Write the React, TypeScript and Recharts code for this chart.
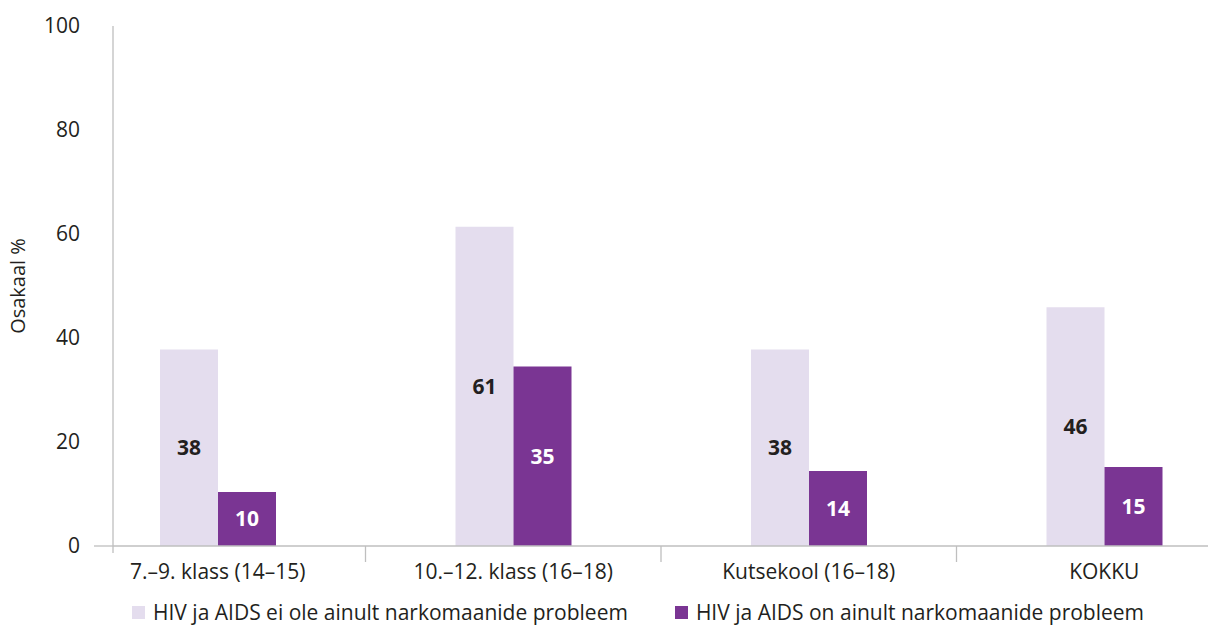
import React from 'react';
import { BarChart, Bar, XAxis, YAxis, Legend, LabelList } from 'recharts';

const categories = ['7.–9. klass (14–15)', '10.–12. klass (16–18)', 'Kutsekool (16–18)', 'KOKKU'];
const notOnlyAddicts = [37.8, 61.4, 37.8, 45.9];
const onlyAddicts = [10.4, 34.5, 14.4, 15.2];
const seriesNames = [
  'HIV ja AIDS ei ole ainult narkomaanide probleem',
  'HIV ja AIDS on ainult narkomaanide probleem',
];
const yTicks = [0, 20, 40, 60, 80, 100];

const data = categories.map((c, i) => ({
  category: c,
  a: notOnlyAddicts[i],
  b: onlyAddicts[i],
}));

const LIGHT = '#e4ddee';
const DARK = '#7a3593';
const AXIS = '#bfbfbf';
const TEXT = '#231f20';
const FONT = '"Open Sans", sans-serif';
const FS = 21;
const BAND = 295.5;
const Y_AXIS_W = 113;

const XTick = (props: any) => {
  const { x, y, payload, index } = props;
  return (
    <g>
      {index === 0 && (
        <g>
          <line x1={Y_AXIS_W - 19} x2={Y_AXIS_W} y1={y} y2={y} stroke={AXIS} strokeWidth={1.3} />
          <line x1={Y_AXIS_W} x2={Y_AXIS_W} y1={y} y2={y + 7} stroke={AXIS} strokeWidth={1.3} />
        </g>
      )}
      {index < categories.length - 1 && (
        <line x1={x + BAND / 2} x2={x + BAND / 2} y1={y} y2={y + 16} stroke={AXIS} strokeWidth={1.3} />
      )}
      <text x={x} y={y + 26} dy="0.35em" textAnchor="middle" fill={TEXT} fontSize={FS} fontFamily={FONT}>
        {payload.value}
      </text>
    </g>
  );
};

const YLabel = (props: any) => {
  const vb = props.viewBox;
  const cx = 18;
  const cy = vb.y + vb.height / 2;
  return (
    <text x={cx} y={cy} dy="0.35em" textAnchor="middle" transform={`rotate(-90 ${cx} ${cy})`} fill={TEXT} fontSize={20} fontFamily={FONT}>
      Osakaal %
    </text>
  );
};

const LegendContent = () => {
  const colors = [LIGHT, DARK];
  return (
    <div style={{ height: 0, overflow: 'visible', position: 'relative' }}>
      <div style={{ position: 'absolute', top: -14, left: 0, display: 'flex', paddingLeft: 132, fontFamily: FONT, fontSize: 21, color: TEXT, whiteSpace: 'nowrap' }}>
        {seriesNames.map((n, i) => (
          <div key={i} style={{ display: 'flex', alignItems: 'center', marginRight: 47 }}>
            <span style={{ display: 'inline-block', width: 13, height: 13, background: colors[i], marginRight: 8 }} />
            <span>{n}</span>
          </div>
        ))}
      </div>
    </div>
  );
};

export default function App() {
  return (
    <div style={{ position: 'absolute', left: 0, top: 0, width: 1208, height: 626, background: '#fff' }}>
      <BarChart width={1208} height={626} data={data} margin={{ top: 26, right: 0, bottom: 50, left: 0 }} barGap={0} barSize={58}>
        <XAxis
          dataKey="category"
          height={30}
          axisLine={{ stroke: AXIS, strokeWidth: 1.3 }}
          tickLine={false}
          tickSize={0}
          tickMargin={0}
          padding={{ left: -43, right: -44 }}
          tick={<XTick />}
          interval={0}
        />
        <YAxis
          width={Y_AXIS_W}
          domain={[0, 100]}
          ticks={yTicks}
          axisLine={{ stroke: AXIS, strokeWidth: 1.3 }}
          tickLine={false}
          tickSize={0}
          tickMargin={33}
          tick={{ fill: TEXT, fontSize: FS, fontFamily: FONT }}
          label={<YLabel />}
        />
        <Legend
          layout="horizontal"
          verticalAlign="middle"
          align="center"
          content={<LegendContent />}
          wrapperStyle={{ position: 'absolute', top: 612, left: 0, width: 1208, height: 0 }}
        />
        <Bar dataKey="a" name={seriesNames[0]} fill={LIGHT} isAnimationActive={false}>
          <LabelList dataKey="a" position="center" formatter={(v: any) => Math.round(v)} fill={TEXT} fontSize={FS} fontWeight="bold" fontFamily={FONT} />
        </Bar>
        <Bar dataKey="b" name={seriesNames[1]} fill={DARK} isAnimationActive={false}>
          <LabelList dataKey="b" position="center" formatter={(v: any) => Math.round(v)} fill="#ffffff" fontSize={FS} fontWeight="bold" fontFamily={FONT} />
        </Bar>
      </BarChart>
    </div>
  );
}
